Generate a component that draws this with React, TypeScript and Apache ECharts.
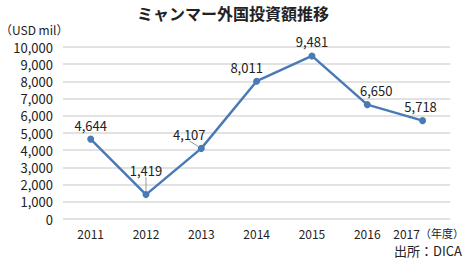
import React, { useEffect, useRef } from "react";
import * as echarts from "echarts";

const years = ["2011", "2012", "2013", "2014", "2015", "2016", "2017"];
const investment = [4644, 1419, 4107, 8011, 9481, 6650, 5718];
const labelDx = [0, 0, -12, -10, 0, 9, -2];
const labelDy = [0, -10, 0, 0, 0, 0, 0];
const leaderLines = [false, true, true, false, false, false, false];

const titleText = "ミャンマー外国投資額推移";
const unitText = "（USD mil）";
const sourceText = "出所：DICA";
const yearUnit = "（年度）";

const JP = "'Noto Sans CJK JP', 'Noto Sans', sans-serif";
const NARROW = "'Liberation Sans Narrow', " + JP;

export default function App() {
  const ref = useRef<HTMLDivElement>(null);
  useEffect(() => {
    if (!ref.current) return;
    const chart = echarts.init(ref.current, null, { renderer: "svg" });
    chart.setOption({
      animation: false,
      backgroundColor: "#ffffff",
      graphic: [
        {
          type: "text",
          left: "center",
          top: 5,
          style: { text: titleText, font: `bold 16px ${JP}`, fill: "#222" },
        },
        {
          type: "text",
          left: 0,
          top: 23,
          style: { text: unitText, font: `12px ${JP}`, fill: "#222" },
        },
        {
          type: "text",
          right: 4,
          top: 244,
          style: { text: sourceText, font: `13px ${JP}`, fill: "#222" },
        },
      ],
      grid: { left: 63, right: 3, top: 47, bottom: 44 },
      xAxis: {
        type: "category",
        data: years,
        boundaryGap: true,
        axisLine: { show: false },
        axisTick: { show: false },
        axisLabel: {
          interval: 0,
          margin: 8,
          color: "#222",
          fontSize: 12,
          fontFamily: NARROW,
          formatter: (v: string, i: number) =>
            i === years.length - 1 ? `{a|${v}}{b|${yearUnit}}` : v,
          rich: {
            a: { fontSize: 12, fontFamily: NARROW, color: "#222", padding: [0, 0, 0, 12] },
            b: { fontSize: 11, fontFamily: JP, color: "#222" },
          },
        },
      },
      yAxis: {
        type: "value",
        min: 0,
        max: 10000,
        interval: 1000,
        axisLine: { show: false },
        axisTick: { show: false },
        splitLine: { lineStyle: { color: "#d9d9d9", width: 1.5 } },
        axisLabel: {
          margin: 10,
          color: "#222",
          fontSize: 13,
          fontFamily: JP,
          formatter: (v: number) => v.toLocaleString("en-US"),
        },
      },
      series: [
        {
          type: "line",
          data: investment.map((v, i) => ({
            value: v,
            labelLine: { show: leaderLines[i], lineStyle: { color: "#999", width: 1 } },
          })),
          symbol: "circle",
          symbolSize: 7,
          lineStyle: { color: "#4a7ab6", width: 2.5 },
          itemStyle: { color: "#4a7ab6" },
          label: {
            show: true,
            position: "top",
            distance: 4,
            color: "#222",
            fontSize: 13,
            fontFamily: JP,
            formatter: (p: any) => Number(p.value).toLocaleString("en-US"),
          },
          labelLayout: (p: any) => ({ dx: labelDx[p.dataIndex], dy: labelDy[p.dataIndex] }),
        },
      ],
    });
    return () => chart.dispose();
  }, []);
  return (
    <div
      ref={ref}
      style={{ position: "fixed", left: 0, top: 0, width: 466, height: 263 }}
    />
  );
}
